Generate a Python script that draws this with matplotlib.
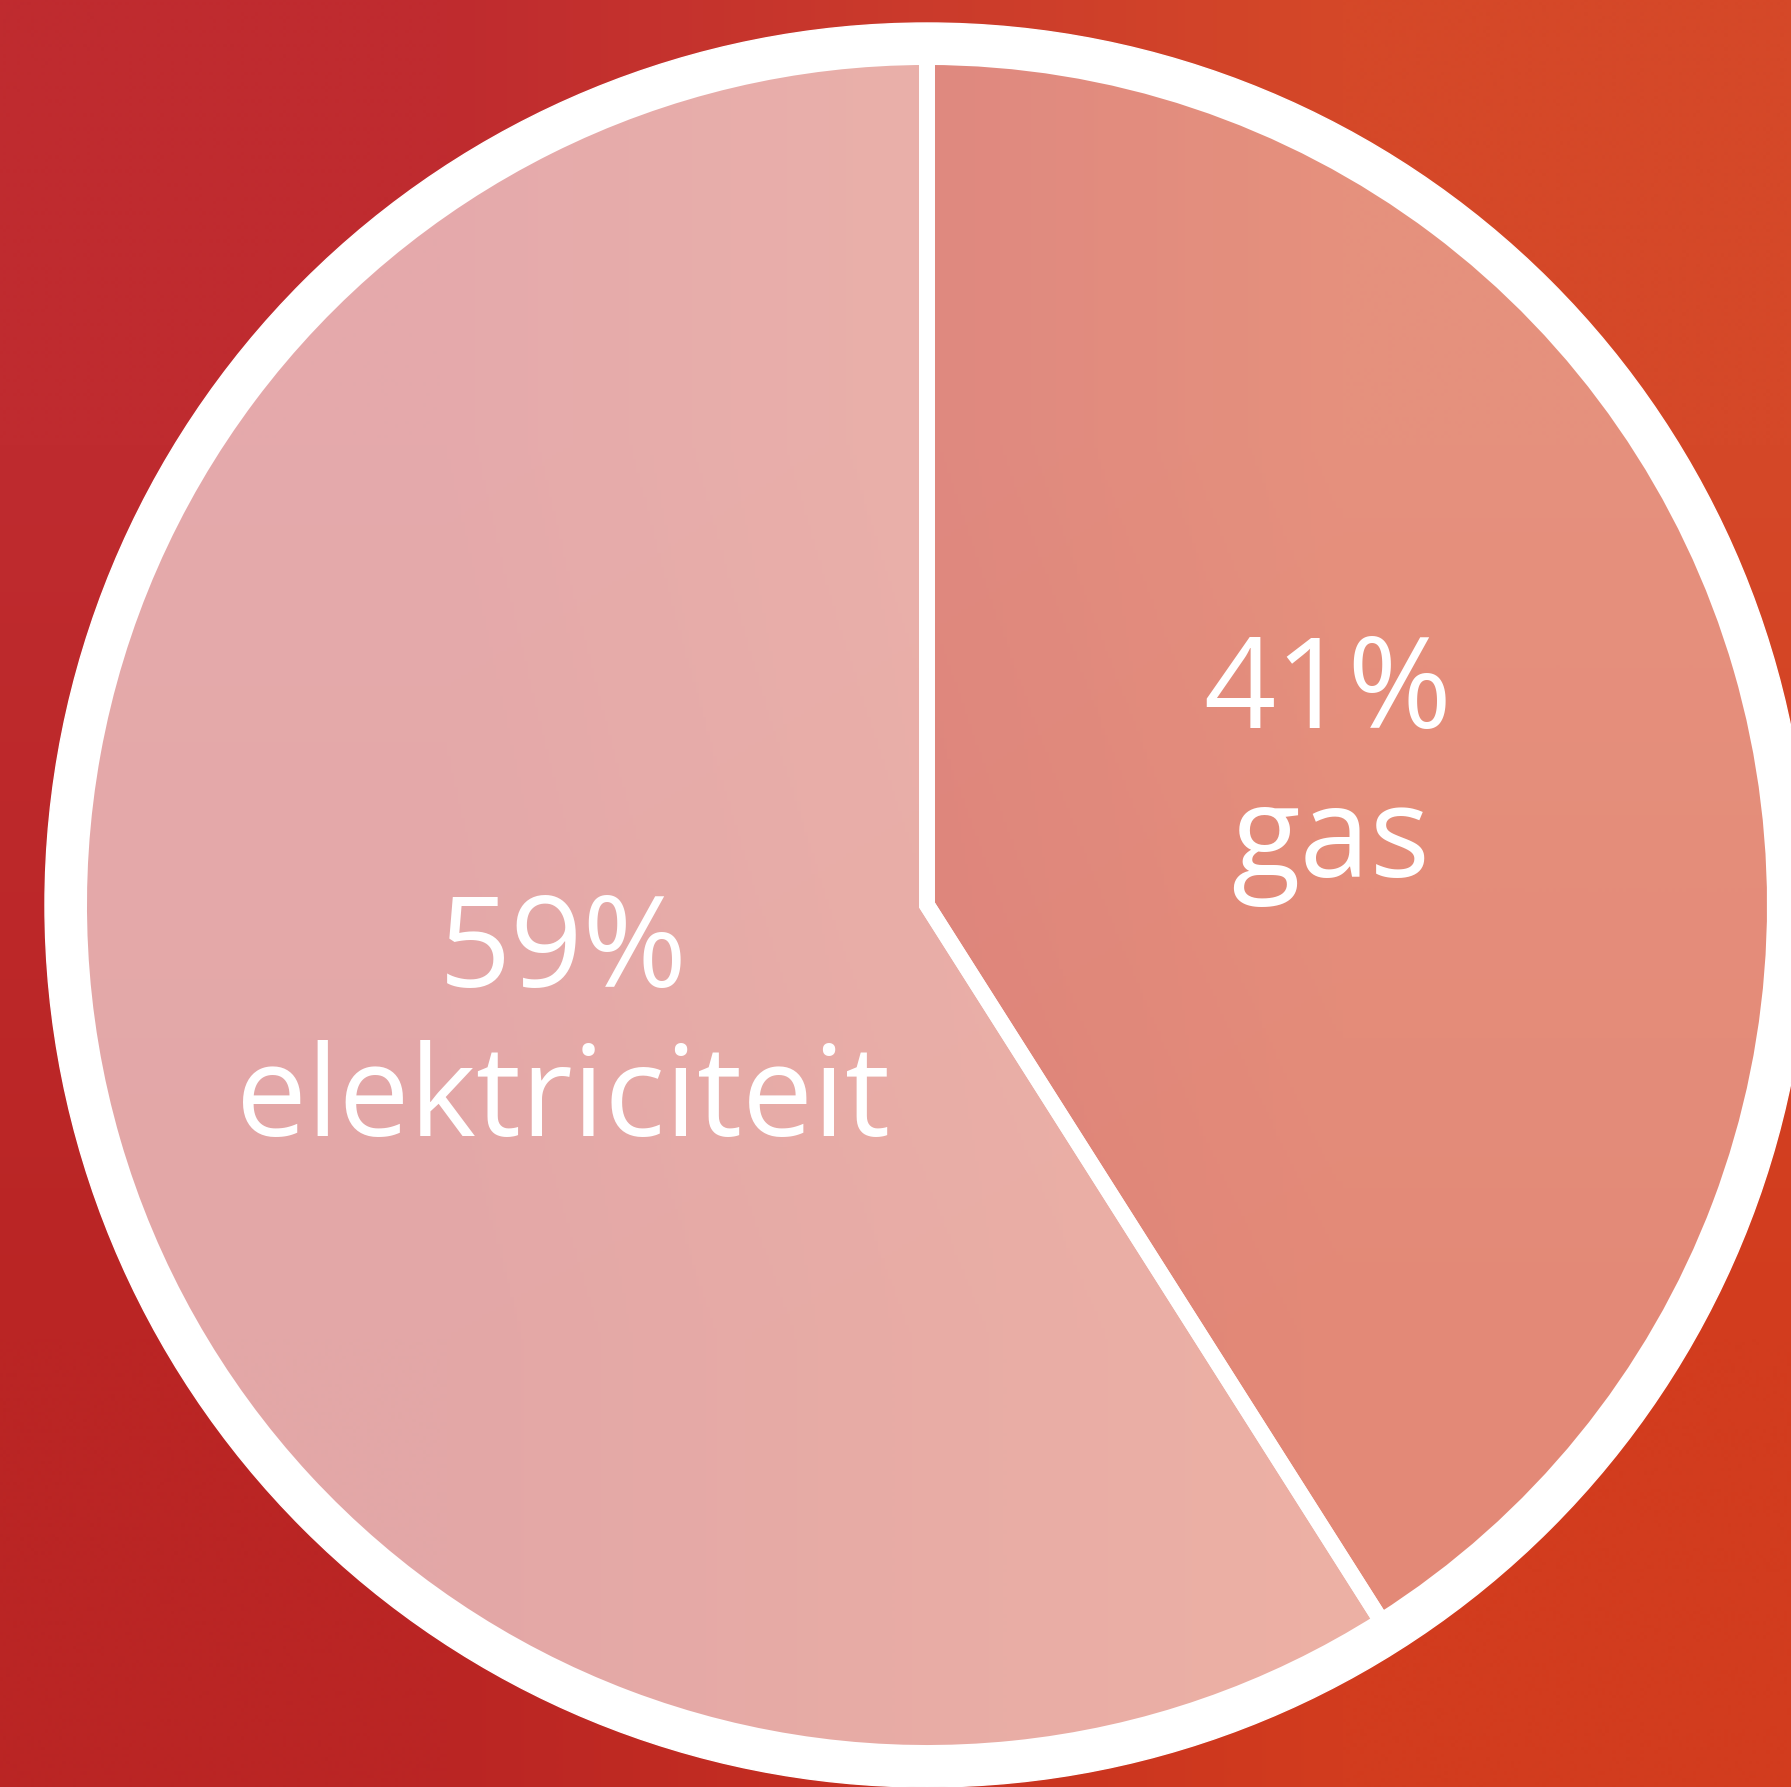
import numpy as np
import matplotlib
matplotlib.use("Agg")
import matplotlib.pyplot as plt
from matplotlib.patches import Circle

# ---------------------------------------------------------------------------
# Data
# ---------------------------------------------------------------------------
labels = ["gas", "elektriciteit"]
shares = [41, 59]
alphas = [0.40, 0.60]          # white overlay strength per slice

W, H = 1791, 1787
CX, CY = 927, H - 905          # pie centre (pixel units, y up)
R_PIE = 848
R_RING = 882

fig = plt.figure(figsize=(W / 100, H / 100), dpi=100)
ax = fig.add_axes([0, 0, 1, 1])

# ---------------------------------------------------------------------------
# Red -> orange background gradient
# ---------------------------------------------------------------------------
corners = np.array([
    [[191, 43, 47], [213, 72, 40]],    # top-left, top-right
    [[186, 37, 36], [210, 60, 30]],    # bottom-left, bottom-right
]) / 255.0
ax.imshow(corners, extent=(0, W, 0, H), interpolation="bilinear",
          aspect="auto", zorder=0)

# white outer ring
ax.add_patch(Circle((CX, CY), R_RING, color="white", zorder=1))

# background again, clipped to the pie, so the translucent slices sit on red
bg = ax.imshow(corners, extent=(0, W, 0, H), interpolation="bilinear",
               aspect="auto", zorder=1.5)
bg.set_clip_path(Circle((CX, CY), R_PIE, transform=ax.transData))

# ---------------------------------------------------------------------------
# Pie
# ---------------------------------------------------------------------------
colors = [(1, 1, 1, a) for a in alphas]
wedges, _ = ax.pie(
    shares,
    colors=colors,
    startangle=90,
    counterclock=False,
    center=(CX, CY),
    radius=R_PIE,
    frame=True,
    wedgeprops=dict(edgecolor="white", linewidth=11.5, joinstyle="miter"),
)
for w in wedges:
    w.set_zorder(2)

ax.set_xlim(0, W)
ax.set_ylim(0, H)
ax.set_aspect("auto")
ax.axis("off")

# ---------------------------------------------------------------------------
# Labels
# ---------------------------------------------------------------------------
font = dict(family=["Open Sans", "DejaVu Sans"], color="white",
            fontsize=91, ha="center", va="baseline", zorder=5)

ax.text(1328, H - 728, f"{shares[0]}%", **font)
ax.text(1331, H - 877, labels[0], **font)
ax.text(563, H - 987, f"{shares[1]}%", **font)
ax.text(563, H - 1136, labels[1], **font)

fig.savefig("out.png", dpi=100)
